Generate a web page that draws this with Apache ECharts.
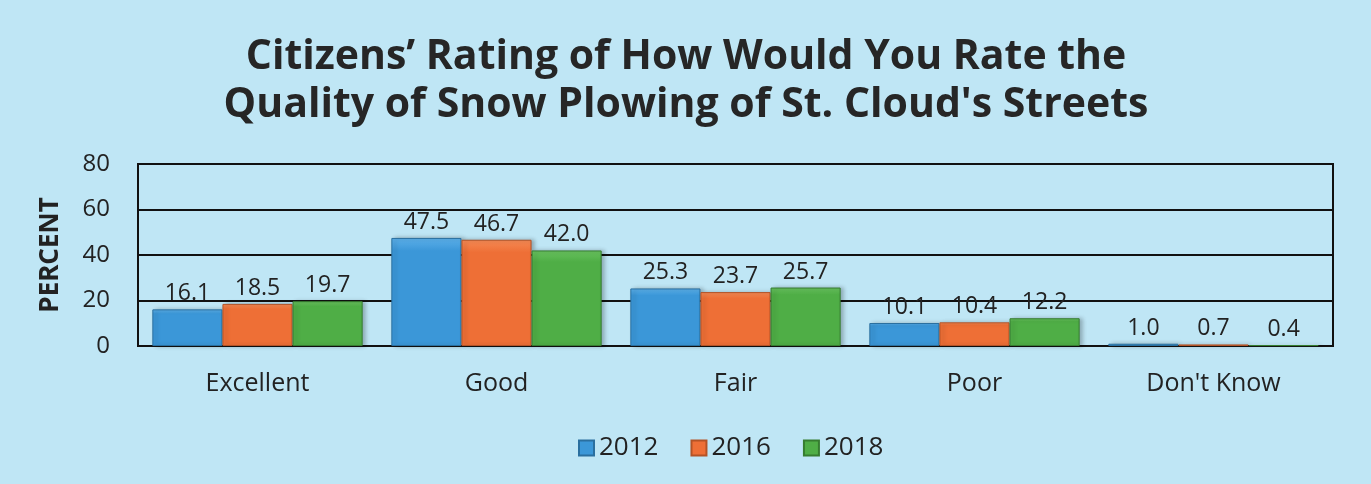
<!DOCTYPE html>
<html>
<head>
<meta charset="utf-8">
<script src="https://cdn.jsdelivr.net/npm/echarts@6/dist/echarts.min.js"></script>
<style>
  html, body { margin: 0; padding: 0; background: #bfe6f5; }
  #chart { width: 1371px; height: 484px; }
</style>
</head>
<body>
<div id="chart"></div>
<script>
// data
var categories = ['Excellent', 'Good', 'Fair', 'Poor', "Don't Know"];
var years = ['2012', '2016', '2018'];
var values2012 = [16.1, 47.5, 25.3, 10.1, 1.0];
var values2016 = [18.5, 46.7, 23.7, 10.4, 0.7];
var values2018 = [19.7, 42.0, 25.7, 12.2, 0.4];
var yTicks = [0, 20, 40, 60, 80];

var colors = ['#3b97d8', '#ee6f36', '#4fae46'];
var lights = ['#5cb0ea', '#f58a55', '#69c25f'];
var borders = ['#2a6f9f', '#b45326', '#367d30'];

var chart = echarts.init(document.getElementById('chart'));

// little bevel look: lighter strip on top of each bar
function grad(i) {
  return new echarts.graphic.LinearGradient(0, 0, 0, 1, [
    { offset: 0, color: lights[i] },
    { offset: 0.12, color: colors[i] },
    { offset: 1, color: colors[i] }
  ]);
}

function makeSeries(name, data, i) {
  return {
    name: name,
    type: 'bar',
    data: data,
    barGap: '0%',
    barCategoryGap: '12%',
    itemStyle: {
      color: grad(i),
      borderColor: borders[i],
      borderWidth: 1,
      shadowColor: 'rgba(0,0,0,0.25)',
      shadowBlur: 4,
      shadowOffsetX: 3
    },
    label: {
      show: true,
      position: 'top',
      distance: 4,
      color: '#222',
      fontSize: 23,
      fontFamily: 'Open Sans',
      formatter: function (p) { return p.value.toFixed(1); }
    }
  };
}

var option = {
  backgroundColor: '#bfe6f5',
  animation: false,
  color: colors,
  title: {
    text: "Citizens\u2019 Rating of How Would You Rate the\nQuality of Snow Plowing of St. Cloud's Streets",
    left: 681,
    textAlign: 'center',
    top: 28,
    textStyle: {
      fontFamily: 'Open Sans',
      fontWeight: 'bold',
      fontSize: 41,
      lineHeight: 48,
      color: '#262626'
    }
  },
  legend: {
    data: years,
    top: 430,
    left: 573,
    itemWidth: 15,
    itemHeight: 15,
    itemGap: 32,
    icon: 'rect',
    textStyle: { fontSize: 26, fontFamily: 'Open Sans', color: '#222' }
  },
  grid: {
    left: 138,
    right: 38,
    top: 164,
    bottom: 138,
    show: true,
    borderColor: '#111',
    borderWidth: 2
  },
  xAxis: {
    type: 'category',
    data: categories,
    axisTick: { show: false },
    axisLine: { lineStyle: { color: '#111', width: 2 } },
    axisLabel: {
      margin: 25,
      fontSize: 25,
      fontFamily: 'Open Sans',
      color: '#222'
    }
  },
  yAxis: {
    type: 'value',
    min: yTicks[0],
    max: yTicks[yTicks.length - 1],
    interval: 20,
    name: 'PERCENT',
    nameLocation: 'middle',
    nameGap: 74,
    nameTextStyle: {
      fontSize: 26,
      fontWeight: 'bold',
      fontFamily: 'Open Sans',
      color: '#222'
    },
    axisLine: { show: false },
    axisTick: { show: false },
    splitLine: { lineStyle: { color: '#111', width: 2 } },
    axisLabel: {
      margin: 28,
      fontSize: 24,
      fontFamily: 'Open Sans',
      color: '#222'
    }
  },
  series: [
    makeSeries(years[0], values2012, 0),
    makeSeries(years[1], values2016, 1),
    makeSeries(years[2], values2018, 2)
  ]
};

chart.setOption(option);
</script>
</body>
</html>
